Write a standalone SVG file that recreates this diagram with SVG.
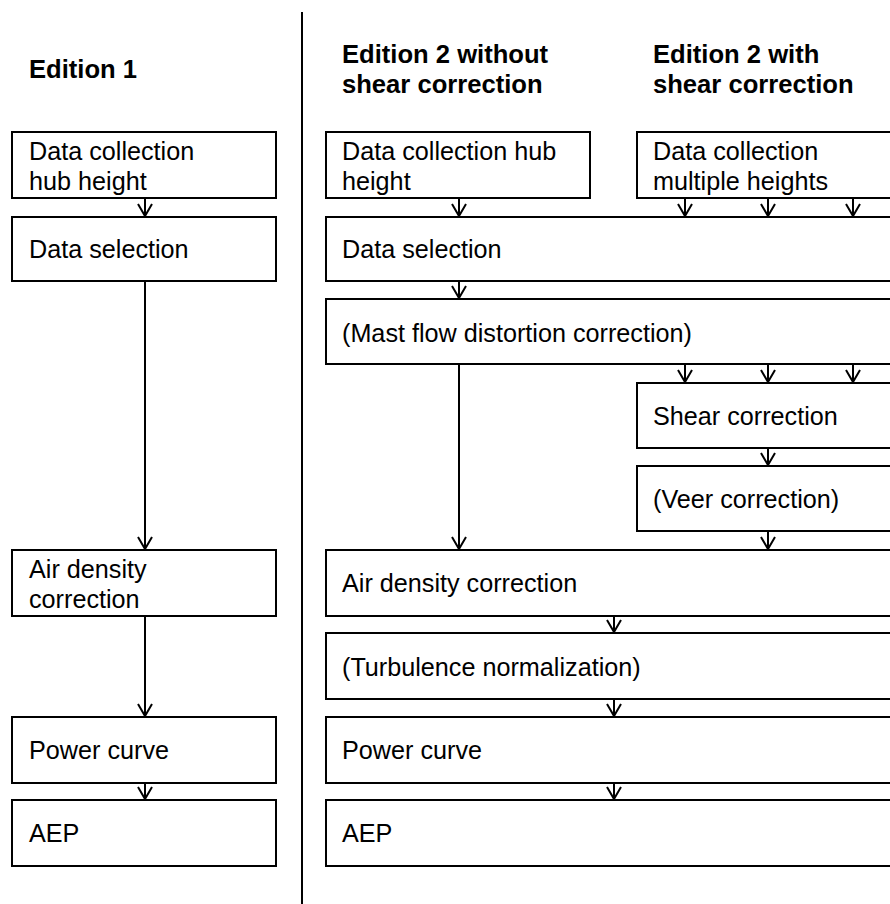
<svg xmlns="http://www.w3.org/2000/svg" width="890" height="904" viewBox="0 0 890 904">
<defs>
<style>
.box{fill:#fff;stroke:#000;stroke-width:2}
.t{font-family:"Liberation Sans",Arial,sans-serif;font-size:25.2px;fill:#000}
.h{font-family:"Liberation Sans",Arial,sans-serif;font-size:25.6px;font-weight:bold;fill:#000}
.c{stroke:#000;stroke-width:2;fill:none}
</style>
<marker id="ah" viewBox="-1 -8 15 16" refX="12" refY="0" markerWidth="15" markerHeight="16" markerUnits="userSpaceOnUse" orient="auto">
<path d="M0,-7 L12,0 L0,7" fill="none" stroke="#000" stroke-width="2"/>
</marker>
</defs>
<rect width="890" height="904" fill="#fff"/>
<line x1="302" y1="12" x2="302" y2="904" stroke="#000" stroke-width="2"/>
<g id="headings">
<text class="h" x="29" y="78">Edition 1</text>
<text class="h" x="342" y="63">Edition 2 without</text>
<text class="h" x="342" y="93">shear correction</text>
<text class="h" x="653" y="63">Edition 2 with</text>
<text class="h" x="653" y="93">shear correction</text>
</g>
<g id="e1-collection"><rect class="box" x="12" y="132" width="264" height="66"/><text class="t" x="29" y="160">Data collection</text><text class="t" x="29" y="190">hub height</text></g>
<g id="e1-selection"><rect class="box" x="12" y="217" width="264" height="64"/><text class="t" x="29" y="258">Data selection</text></g>
<g id="e1-airdensity"><rect class="box" x="12" y="550" width="264" height="66"/><text class="t" x="29" y="578">Air density</text><text class="t" x="29" y="608">correction</text></g>
<g id="e1-powercurve"><rect class="box" x="12" y="717" width="264" height="66"/><text class="t" x="29" y="759">Power curve</text></g>
<g id="e1-aep"><rect class="box" x="12" y="800" width="264" height="66"/><text class="t" x="29" y="842">AEP</text></g>
<g id="e2-collection-hub"><rect class="box" x="326" y="132" width="264" height="66"/><text class="t" x="342" y="160">Data collection hub</text><text class="t" x="342" y="190">height</text></g>
<g id="e2-collection-multi"><rect class="box" x="637" y="132" width="270" height="66"/><text class="t" x="653" y="160">Data collection</text><text class="t" x="653" y="190">multiple heights</text></g>
<g id="e2-selection"><rect class="box" x="326" y="217" width="580" height="64"/><text class="t" x="342" y="258">Data selection</text></g>
<g id="e2-mast"><rect class="box" x="326" y="299" width="580" height="65"/><text class="t" x="342" y="342">(Mast flow distortion correction)</text></g>
<g id="e2-shear"><rect class="box" x="637" y="383" width="270" height="65"/><text class="t" x="653" y="425">Shear correction</text></g>
<g id="e2-veer"><rect class="box" x="637" y="466" width="270" height="65"/><text class="t" x="653" y="508">(Veer correction)</text></g>
<g id="e2-airdensity"><rect class="box" x="326" y="550" width="580" height="66"/><text class="t" x="342" y="592">Air density correction</text></g>
<g id="e2-turbulence"><rect class="box" x="326" y="633" width="580" height="66"/><text class="t" x="342" y="676">(Turbulence normalization)</text></g>
<g id="e2-powercurve"><rect class="box" x="326" y="717" width="580" height="66"/><text class="t" x="342" y="759">Power curve</text></g>
<g id="e2-aep"><rect class="box" x="326" y="800" width="580" height="66"/><text class="t" x="342" y="842">AEP</text></g>
<g id="connectors" class="c" marker-end="url(#ah)">
<line x1="145" y1="198" x2="145" y2="216"/>
<line x1="145" y1="281" x2="145" y2="549"/>
<line x1="145" y1="616" x2="145" y2="716"/>
<line x1="145" y1="783" x2="145" y2="799"/>
<line x1="459" y1="198" x2="459" y2="216"/>
<line x1="459" y1="281" x2="459" y2="298"/>
<line x1="459" y1="364" x2="459" y2="549"/>
<line x1="685" y1="198" x2="685" y2="216"/>
<line x1="768" y1="198" x2="768" y2="216"/>
<line x1="853" y1="198" x2="853" y2="216"/>
<line x1="685" y1="364" x2="685" y2="382"/>
<line x1="768" y1="364" x2="768" y2="382"/>
<line x1="853" y1="364" x2="853" y2="382"/>
<line x1="768" y1="448" x2="768" y2="465"/>
<line x1="768" y1="531" x2="768" y2="549"/>
<line x1="614" y1="616" x2="614" y2="632"/>
<line x1="614" y1="699" x2="614" y2="716"/>
<line x1="614" y1="783" x2="614" y2="799"/>
</g>
</svg>
